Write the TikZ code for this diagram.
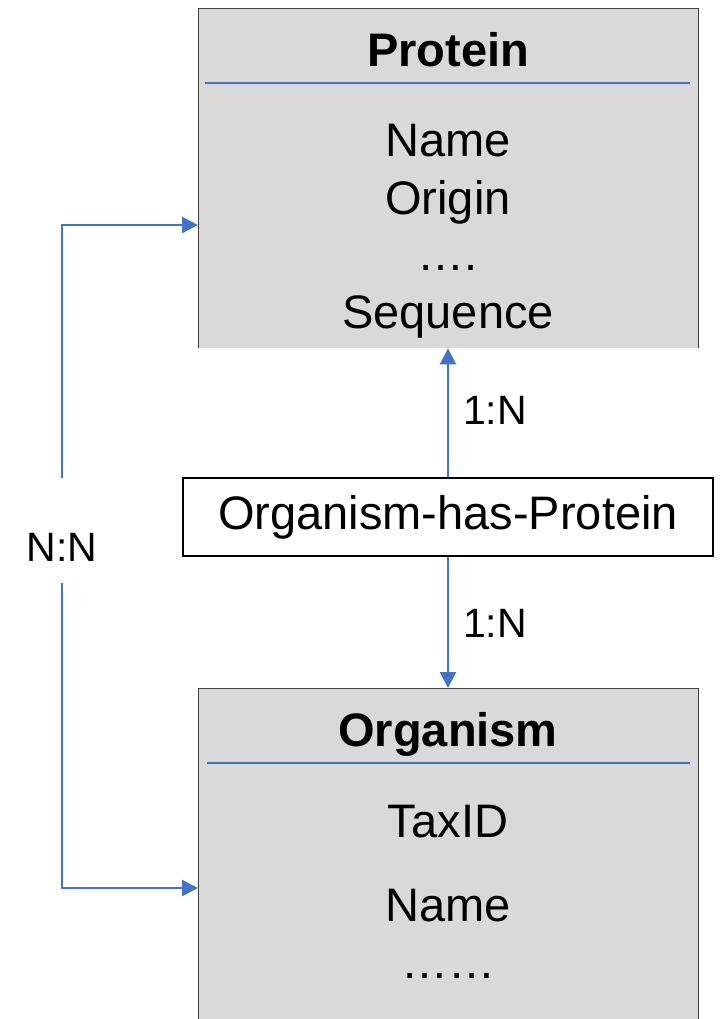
\documentclass[tikz,border=0pt]{standalone}
\usepackage{fontspec}
\setmainfont{Liberation Sans}
\usetikzlibrary{positioning,arrows.meta}
\definecolor{boxgray}{RGB}{217,217,217}
\definecolor{linkblue}{RGB}{68,114,196}
\tikzset{
  entity/.style={fill=boxgray, minimum width=500pt, inner sep=0pt, anchor=north west},
  field/.style={font=\fontsize{47}{56}\selectfont, inner sep=0pt},
  title/.style={font=\fontsize{47}{56}\selectfont\bfseries, inner sep=0pt},
  relbox/.style={draw=black, line width=1.6pt, fill=white, minimum width=530pt, minimum height=78pt, inner sep=0pt, font=\fontsize{47}{56}\selectfont},
  card/.style={font=\fontsize{41}{50}\selectfont, inner sep=0pt},
  link/.style={linkblue, line width=2.5pt, -{Triangle[length=16pt,width=16pt]}},
  rule/.style={linkblue, line width=1.6pt}
}
\begin{document}
\begin{tikzpicture}[x=1pt,y=-1pt]
\useasboundingbox (0,0) rectangle (720,1019);
% protein table
\node[entity, minimum height=340pt] (prot) at (198,8) {};
\draw[black!75, line width=0.8pt] (prot.south west) -- (prot.north west) -- (prot.north east) -- (prot.south east);
\draw[rule] (205,83) -- (690,83);
\node[title] (protT) at (448,50) {Protein};
\node[field] (protA) at (448,141) {Name};
\node[field] (protB) at (448,202) {Origin};
\node[field] (protC) at (448,268) {….};
\node[field] (protD) at (448,317) {Sequence};
% organism table
\node[entity, minimum height=331pt] (orgm) at (198,688) {};
\draw[black!75, line width=0.8pt] (orgm.south west) -- (orgm.north west) -- (orgm.north east) -- (orgm.south east);
\draw[rule] (207,763) -- (690,763);
\node[title] (orgmT) at (448,734) {Organism};
\node[field] (orgmA) at (448,822) {TaxID};
\node[field] (orgmB) at (448,906) {Name};
\node[field] (orgmC) at (448,976) {……};
% relation
\node[relbox] (rel) at (448,517) {Organism-has-Protein};
\draw[link] (rel.north) -- (prot.south -| rel.north);
\draw[link] (rel.south) -- (orgm.north -| rel.south);
\node[card] (cardA) at (495,410) {1:N};
\node[card] (cardB) at (495,623) {1:N};
% N:N link
\node[card] (cardC) at (62,547) {N:N};
\coordinate (nnTop) at (62,478);
\coordinate (nnBot) at (62,583);
\draw[link] (nnTop) |- (prot.west |- 0,225);
\draw[link] (nnBot) |- (orgm.west |- 0,888);
\end{tikzpicture}
\end{document}
